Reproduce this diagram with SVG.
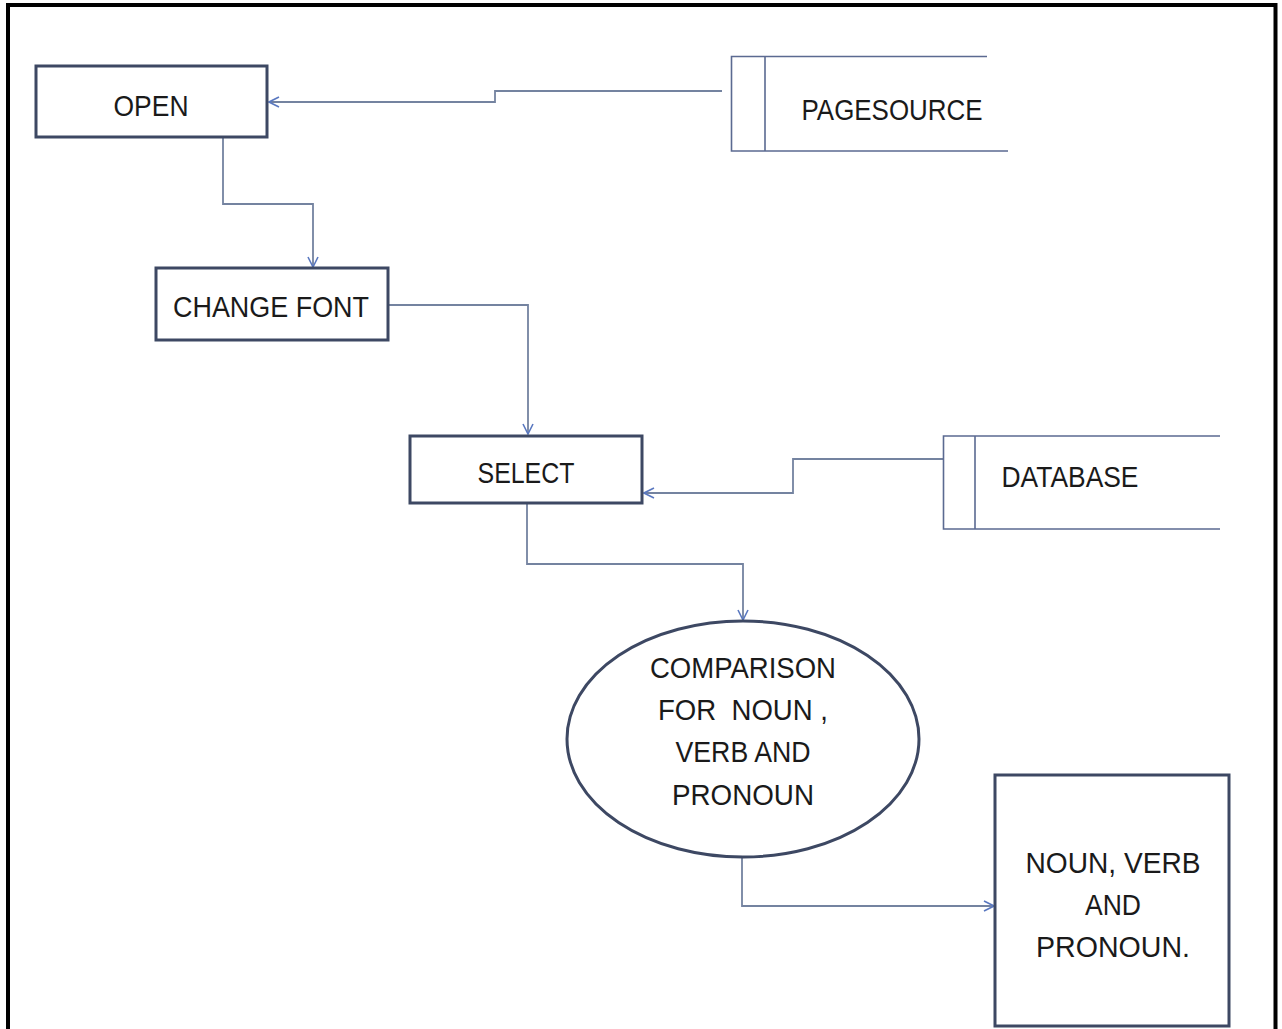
<svg xmlns="http://www.w3.org/2000/svg" width="1282" height="1029" viewBox="0 0 1282 1029">
<style>
.box{fill:#ffffff;stroke:#3d4863;stroke-width:3}
.store{fill:none;stroke:#5b6a91;stroke-width:1.6}
.conn{fill:none;stroke:#7483a0;stroke-width:1.8}
.t{font-family:"Liberation Sans",Arial,sans-serif;font-size:29px;fill:#1a1a1a;text-anchor:middle}
</style>
<defs>
<marker id="arr" viewBox="0 0 12 12" refX="11" refY="6" markerWidth="12" markerHeight="12" markerUnits="userSpaceOnUse" orient="auto">
<path d="M1,1 L11,6 L1,11" fill="none" stroke="#5a78c0" stroke-width="1.6"/>
</marker>
</defs>
<rect width="1282" height="1029" fill="#ffffff"/>
<path d="M8,1029 V5 H1275.5 V1029" fill="none" stroke="#000000" stroke-width="4"/>
<g id="connectors">
<path class="conn" d="M722,91 H495 V102 H269" marker-end="url(#arr)"/>
<path class="conn" d="M223,138 V204 H313 V267" marker-end="url(#arr)"/>
<path class="conn" d="M389,305 H528 V434" marker-end="url(#arr)"/>
<path class="conn" d="M943,459 H793 V493 H644" marker-end="url(#arr)"/>
<path class="conn" d="M527,504 V564 H743 V620" marker-end="url(#arr)"/>
<path class="conn" d="M742,857 V906 H994" marker-end="url(#arr)"/>
</g>
<g id="open">
<rect class="box" x="36" y="66" width="231" height="71"/>
<text class="t" x="151" y="116" textLength="75" lengthAdjust="spacingAndGlyphs">OPEN</text>
</g>
<g id="pagesource">
<path class="store" d="M987,56.5 H731.5 V151 H1008 M765,56.5 V151"/>
<text class="t" x="892" y="120" textLength="181" lengthAdjust="spacingAndGlyphs">PAGESOURCE</text>
</g>
<g id="changefont">
<rect class="box" x="156" y="268" width="232" height="72"/>
<text class="t" x="271" y="317" textLength="196" lengthAdjust="spacingAndGlyphs">CHANGE FONT</text>
</g>
<g id="select">
<rect class="box" x="410" y="436" width="232" height="67"/>
<text class="t" x="526" y="483" textLength="97" lengthAdjust="spacingAndGlyphs">SELECT</text>
</g>
<g id="database">
<path class="store" d="M1220,436 H943.5 V529 H1220 M975,436 V529"/>
<text class="t" x="1070" y="487" textLength="137" lengthAdjust="spacingAndGlyphs">DATABASE</text>
</g>
<g id="comparison">
<ellipse class="box" cx="743" cy="739" rx="176" ry="118"/>
<text class="t" x="743" y="678" textLength="186" lengthAdjust="spacingAndGlyphs">COMPARISON</text>
<text class="t" x="743" y="720" textLength="170" lengthAdjust="spacingAndGlyphs" xml:space="preserve">FOR  NOUN ,</text>
<text class="t" x="743" y="762" textLength="135" lengthAdjust="spacingAndGlyphs">VERB AND</text>
<text class="t" x="743" y="805" textLength="142" lengthAdjust="spacingAndGlyphs">PRONOUN</text>
</g>
<g id="result">
<rect class="box" x="995" y="775" width="234" height="251"/>
<text class="t" x="1113" y="873" textLength="175" lengthAdjust="spacingAndGlyphs">NOUN, VERB</text>
<text class="t" x="1113" y="915" textLength="56" lengthAdjust="spacingAndGlyphs">AND</text>
<text class="t" x="1113" y="957" textLength="154" lengthAdjust="spacingAndGlyphs">PRONOUN.</text>
</g>
</svg>
